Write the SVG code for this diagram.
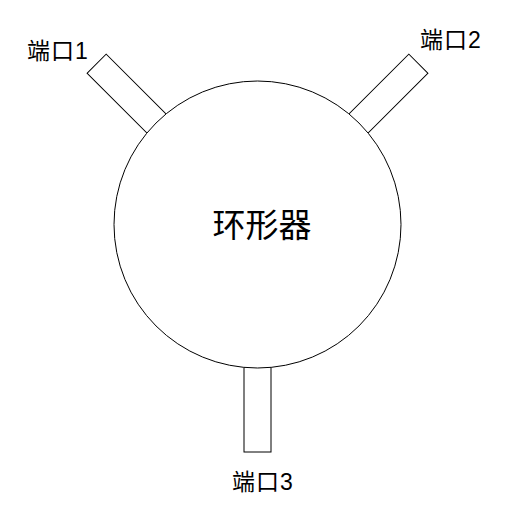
<svg xmlns="http://www.w3.org/2000/svg" width="524" height="510" viewBox="0 0 524 510">
<style>
.port{fill:#fff;stroke:#000;stroke-width:1}
.body{fill:#fff;stroke:#000;stroke-width:1}
.lbl{font-family:"Liberation Sans","Noto Sans CJK SC",sans-serif;font-size:23px;fill:#000;letter-spacing:1px}
.title{font-family:"Noto Sans CJK SC",sans-serif;font-size:33px;fill:#000;text-anchor:middle}
</style>
<rect width="524" height="510" fill="#fff"/>
<g id="connectors"/>
<g id="port1">
<rect class="port" x="244" y="300" width="27" height="152" transform="rotate(135 257.5 224.5)"/>
<text class="lbl" x="27" y="59">端口1</text>
</g>
<g id="port2">
<rect class="port" x="244" y="300" width="27" height="152" transform="rotate(-135 257.5 224.5)"/>
<text class="lbl" x="420" y="48">端口2</text>
</g>
<g id="port3">
<rect class="port" x="244" y="300" width="27" height="152"/>
<text class="lbl" x="232" y="490">端口3</text>
</g>
<g id="circulator">
<circle class="body" cx="257.5" cy="224.5" r="143.5"/>
<text class="title" x="262" y="237">环形器</text>
</g>
</svg>
